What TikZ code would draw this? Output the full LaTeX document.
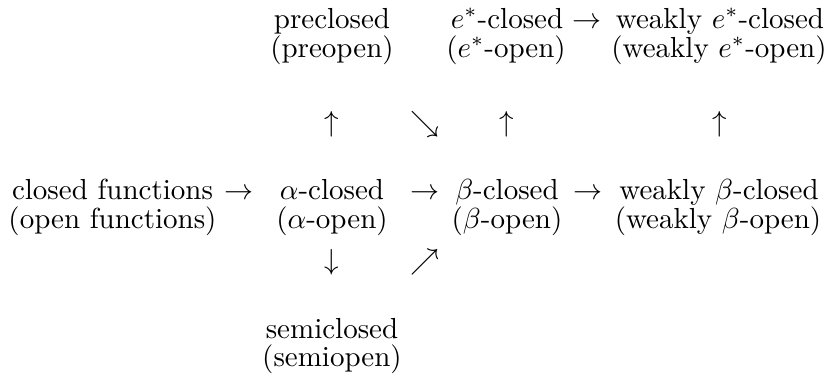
\documentclass[tikz,border=0pt]{standalone}
\usepackage{amsmath}
\begin{document}
\begin{tikzpicture}[x=0.3448pt,y=-0.3448pt,
  lbl/.style={anchor=base,inner sep=0pt},
  arr/.style={anchor=base,inner sep=0pt}]
\useasboundingbox (0,0) rectangle (825,383);
% top rows
\node[lbl] (pc)  at (332,28) {preclosed};
\node[lbl] (po)  at (332,57) {(preopen)};
\node[lbl] (ec)  at (507,28) {$e^*$-closed};
\node[arr] (a1)  at (587,28) {$\rightarrow$};
\node[lbl] (wec) at (720,28) {weakly $e^*$-closed};
\node[lbl] (eo)  at (506,57) {($e^*$-open)};
\node[lbl] (weo) at (719,57) {(weakly $e^*$-open)};
% vertical/diagonal arrows
\node[arr] (u1) at (332,131) {$\uparrow$};
\node[arr] (d1) at (425,131) {$\searrow$};
\node[arr] (u2) at (507,131) {$\uparrow$};
\node[arr] (u3) at (720,131) {$\uparrow$};
% middle rows
\node[lbl] (cf)  at (112.5,199.5) {closed functions};
\node[arr] (a2)  at (239,199.5) {$\rightarrow$};
\node[lbl] (ac)  at (332,199.5) {$\alpha$-closed};
\node[arr] (a3)  at (425,199.5) {$\rightarrow$};
\node[lbl] (bc)  at (507,199.5) {$\beta$-closed};
\node[arr] (a4)  at (588,199.5) {$\rightarrow$};
\node[lbl] (wbc) at (719,199.5) {weakly $\beta$-closed};
\node[lbl] (of)  at (112.5,228) {(open functions)};
\node[lbl] (ao)  at (332,228) {($\alpha$-open)};
\node[lbl] (bo)  at (507,228) {($\beta$-open)};
\node[lbl] (wbo) at (718,228) {(weakly $\beta$-open)};
% lower arrows
\node[arr] (dn) at (332,269) {$\downarrow$};
\node[arr] (ne) at (425,269) {$\nearrow$};
% bottom rows
\node[lbl] (sc) at (332,338) {semiclosed};
\node[lbl] (so) at (332,366) {(semiopen)};
\end{tikzpicture}
\end{document}
